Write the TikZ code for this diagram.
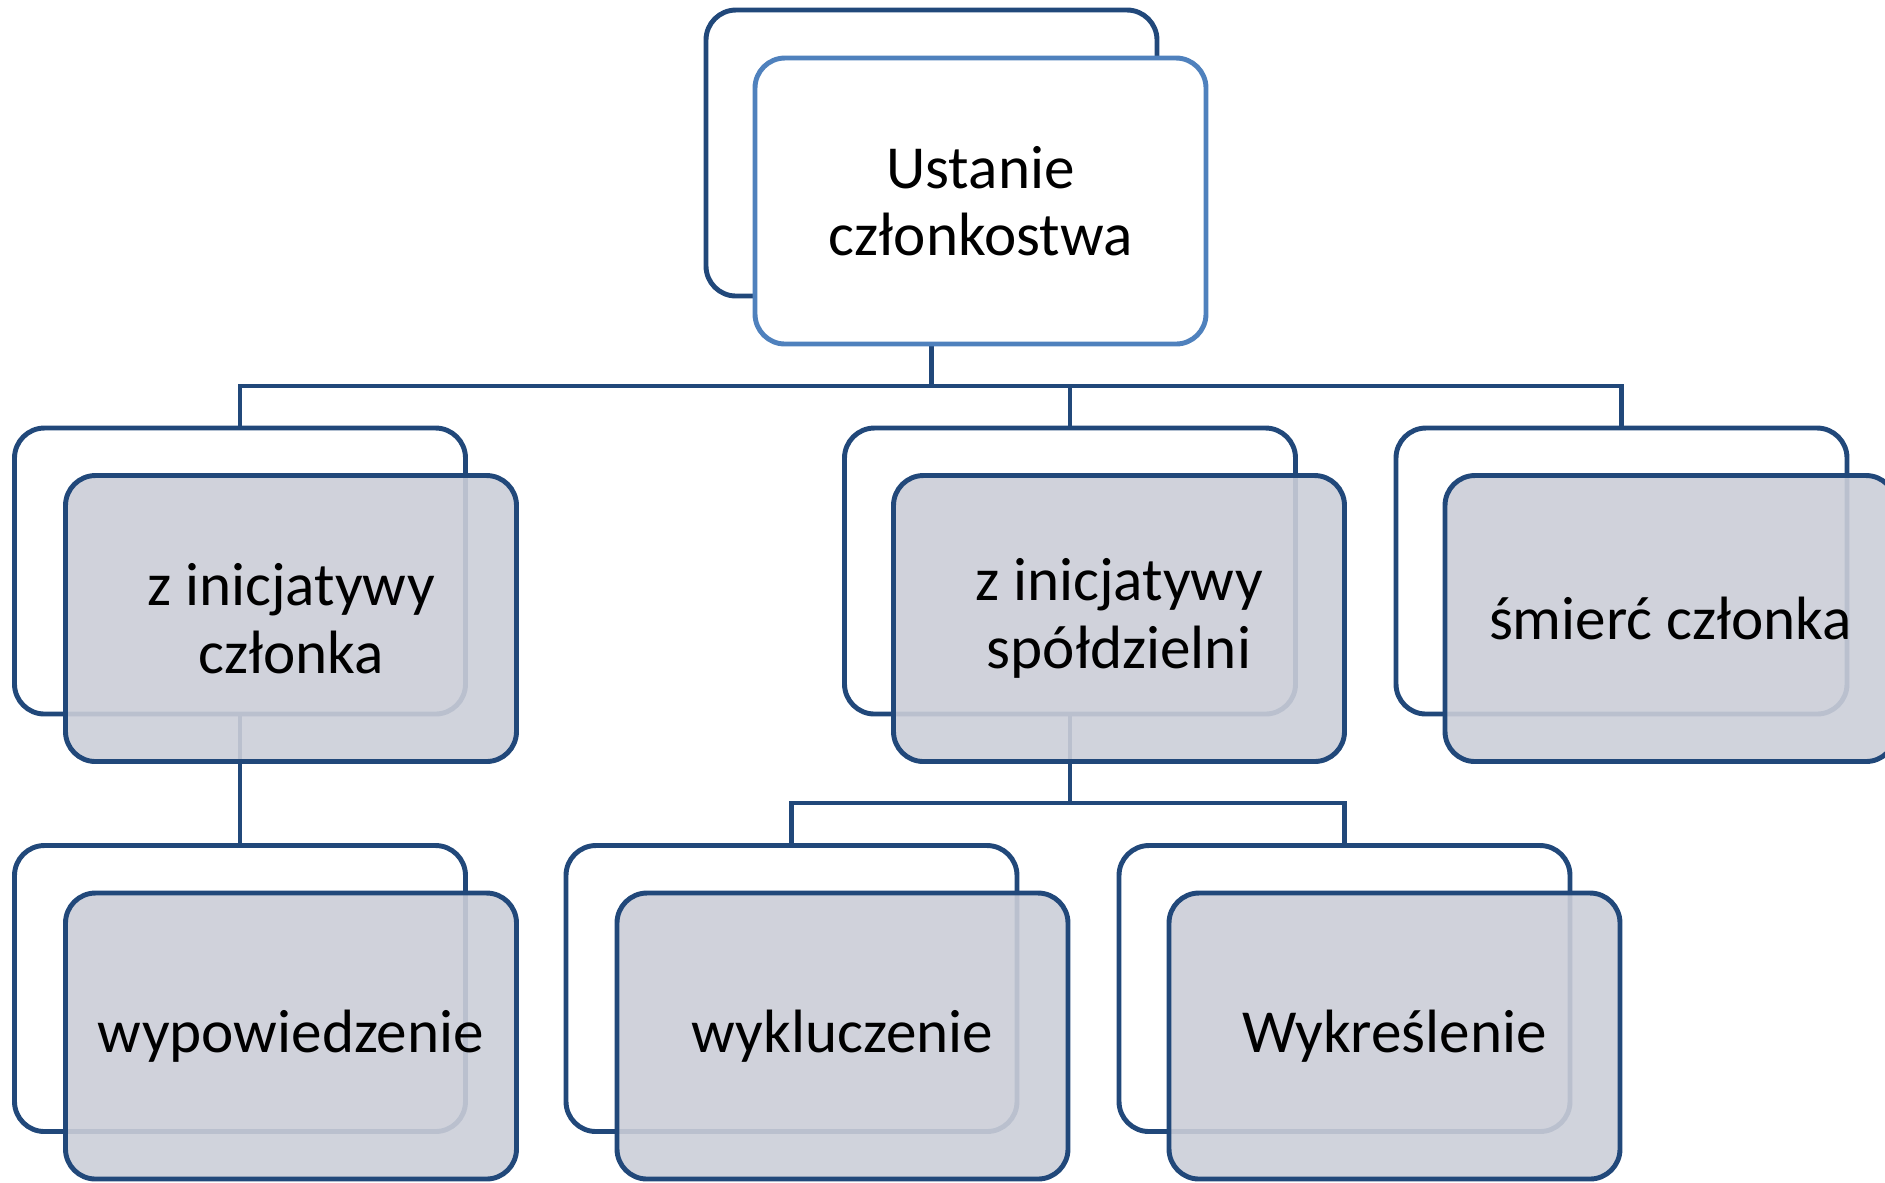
\documentclass[tikz,border=0pt]{standalone}
\usepackage{fontspec}
\setmainfont{Carlito}
\usetikzlibrary{positioning,calc}

\definecolor{navy}{RGB}{33,72,122}
\definecolor{topblue}{RGB}{79,129,189}
\definecolor{boxgray}{RGB}{203,206,216}

\tikzset{
  backbox/.style={draw=navy, fill=white, line width=1.4pt, rounded corners=0.3cm,
                  minimum width=4.51cm, minimum height=2.86cm, inner sep=0pt},
  frontbox/.style={backbox, fill=boxgray, fill opacity=0.9, text opacity=1,
                   align=center, font=\fontsize{17.4}{19.2}\selectfont},
  topbox/.style={frontbox, draw=topblue, fill=white, fill opacity=1},
  link/.style={draw=navy, line width=1.4pt}
}

\begin{document}
\begin{tikzpicture}
\useasboundingbox (0,0) rectangle (18.85,-11.82);

\node[backbox] (b0) at ( 9.315,-1.530) {};
\node[backbox] (b1) at ( 2.400,-5.710) {};
\node[backbox] (b2) at (10.700,-5.710) {};
\node[backbox] (b3) at (16.215,-5.710) {};
\node[backbox] (b4) at ( 2.400,-9.885) {};
\node[backbox] (b5) at ( 7.915,-9.885) {};
\node[backbox] (b6) at (13.445,-9.885) {};

\coordinate (j0) at ( 9.315,-3.86);
\coordinate (j2) at (10.700,-8.03);

\draw[link] (b0.south) -- (j0);
\draw[link] (b1.north) |- (j0) -| (b3.north);
\draw[link] (j0) -| (b2.north);
\draw[link] (b1.south) -- (b4.north);
\draw[link] (b2.south) -- (j2);
\draw[link] (b5.north) |- (j2) -| (b6.north);

\node[topbox]   (f0) at ($(b0)+(0.49,-0.48)$) {Ustanie\\członkostwa};
\node[frontbox] (f1) at ($(b1)+(0.51,-0.475)$) {z inicjatywy\\członka};
\node[frontbox] (f2) at ($(b2)+(0.49,-0.475)$) {z inicjatywy\\spółdzielni};
\node[frontbox] (f3) at ($(b3)+(0.49,-0.475)$) {śmierć członka};
\node[frontbox] (f4) at ($(b4)+(0.51,-0.475)$) {wypowiedzenie};
\node[frontbox] (f5) at ($(b5)+(0.51,-0.475)$) {wykluczenie};
\node[frontbox] (f6) at ($(b6)+(0.50,-0.475)$) {Wykreślenie};
\end{tikzpicture}
\end{document}
